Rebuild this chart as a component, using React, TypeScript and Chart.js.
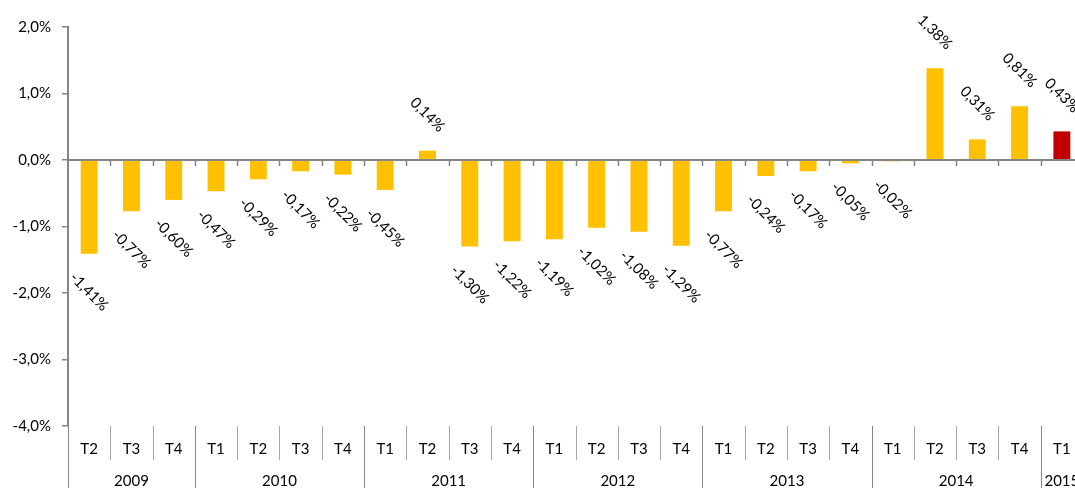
import React, { useEffect, useRef } from "react";
import { Chart, registerables } from "chart.js";

Chart.register(...registerables);

const quarters = [
  "T2", "T3", "T4",
  "T1", "T2", "T3", "T4",
  "T1", "T2", "T3", "T4",
  "T1", "T2", "T3", "T4",
  "T1", "T2", "T3", "T4",
  "T1", "T2", "T3", "T4",
  "T1",
];
const years = ["2009", "2010", "2011", "2012", "2013", "2014", "2015"];
const yearCounts = [3, 4, 4, 4, 4, 4, 1];
const values = [
  -1.41, -0.77, -0.6,
  -0.47, -0.29, -0.17, -0.22,
  -0.45, 0.14, -1.3, -1.22,
  -1.19, -1.02, -1.08, -1.29,
  -0.77, -0.24, -0.17, -0.05,
  -0.02, 1.38, 0.31, 0.81,
  0.43,
];
const yTicks = [2, 1, 0, -1, -2, -3, -4];

const BAR = "#FFC000";
const BAR_LAST = "#C00000";
const AXIS = "#868686";
const SEP = "#a6a6a6";
const FONT = "Lato";

const fmt = (v: number) => v.toFixed(2).replace(".", ",") + "%";

const overlayPlugin = {
  id: "overlay",
  afterDatasetsDraw(chart: any) {
    const { ctx, chartArea } = chart;
    const xs = chart.scales.x;
    const ys = chart.scales.y;
    const step = xs.getPixelForValue(1) - xs.getPixelForValue(0);
    const y0 = ys.getPixelForValue(0);
    ctx.save();
    // zero line
    ctx.strokeStyle = AXIS;
    ctx.lineWidth = 2;
    ctx.beginPath();
    ctx.moveTo(chartArea.left, y0);
    ctx.lineTo(chartArea.right, y0);
    ctx.stroke();
    // ticks on zero line
    ctx.lineWidth = 1.5;
    for (let i = 1; i <= quarters.length; i++) {
      const bx = Math.round(xs.getPixelForValue(i) - step / 2) + 0.5;
      ctx.beginPath();
      ctx.moveTo(bx, y0);
      ctx.lineTo(bx, y0 + 6);
      ctx.stroke();
    }
    // data labels
    ctx.fillStyle = "#000";
    ctx.font = `15px ${FONT}`;
    ctx.textAlign = "center";
    ctx.textBaseline = "middle";
    values.forEach((v, i) => {
      const x = xs.getPixelForValue(i);
      const yEnd = ys.getPixelForValue(v);
      const y = v >= 0 ? yEnd - 36 : yEnd + 38;
      ctx.save();
      ctx.translate(x, y);
      ctx.rotate(Math.PI / 4);
      ctx.fillText(fmt(v), 0, 0);
      ctx.restore();
    });
    ctx.restore();
  },
  afterDraw(chart: any) {
    const { ctx, chartArea, height } = chart;
    const xs = chart.scales.x;
    const step = xs.getPixelForValue(1) - xs.getPixelForValue(0);
    const bottom = chartArea.bottom;
    ctx.save();
    // year boundaries
    const yearStart = new Set<number>();
    let acc = 0;
    yearCounts.forEach((c) => {
      yearStart.add(acc);
      acc += c;
    });
    ctx.lineWidth = 1;
    for (let i = 0; i <= quarters.length; i++) {
      const bx = Math.round(xs.getPixelForValue(i) - step / 2) + 0.5;
      ctx.strokeStyle = yearStart.has(i) ? AXIS : SEP;
      ctx.beginPath();
      ctx.moveTo(bx, bottom);
      ctx.lineTo(bx, yearStart.has(i) ? height : bottom + 34);
      ctx.stroke();
    }
    ctx.fillStyle = "#000";
    ctx.font = `15px ${FONT}`;
    ctx.textAlign = "center";
    ctx.textBaseline = "middle";
    quarters.forEach((q, i) => {
      ctx.fillText(q, xs.getPixelForValue(i), bottom + 23);
    });
    let s = 0;
    years.forEach((yr, k) => {
      const c = yearCounts[k];
      const cx = (xs.getPixelForValue(s) + xs.getPixelForValue(s + c - 1)) / 2;
      ctx.fillText(yr, cx, bottom + 55);
      s += c;
    });
    ctx.restore();
  },
};

export default function App() {
  const ref = useRef<HTMLCanvasElement | null>(null);
  useEffect(() => {
    if (!ref.current) return;
    const chart = new Chart(ref.current, {
      type: "bar",
      data: {
        labels: quarters,
        datasets: [
          {
            data: values,
            backgroundColor: values.map((_, i) => (i === values.length - 1 ? BAR_LAST : BAR)),
            categoryPercentage: 1,
            barPercentage: 0.4,
          },
        ],
      },
      options: {
        responsive: false,
        animation: false,
        events: [],
        layout: { padding: { top: 27, bottom: 62, right: 37, left: 0 } },
        plugins: { legend: { display: false }, tooltip: { enabled: false } },
        scales: {
          x: { display: false },
          y: {
            min: -4,
            max: 2,
            afterFit: (s: any) => {
              s.width = 68;
            },
            afterBuildTicks: (s: any) => {
              s.ticks = yTicks.map((v) => ({ value: v }));
            },
            ticks: {
              color: "#000",
              padding: 11,
              font: { family: FONT, size: 15 },
              callback: (v: any) => Number(v).toFixed(1).replace(".", ",") + "%",
            },
            grid: {
              drawOnChartArea: false,
              drawTicks: true,
              tickLength: 6,
              color: AXIS,
              lineWidth: 1.5,
            },
            border: { color: AXIS, width: 2 },
          },
        },
      },
      plugins: [overlayPlugin],
    });
    return () => chart.destroy();
  }, []);
  return (
    <div style={{ position: "fixed", left: 0, top: 0, width: 1075, height: 488, overflow: "hidden", background: "#fff" }}>
      <canvas ref={ref} width={1120} height={488} style={{ width: 1120, height: 488, display: "block" }} />
    </div>
  );
}
